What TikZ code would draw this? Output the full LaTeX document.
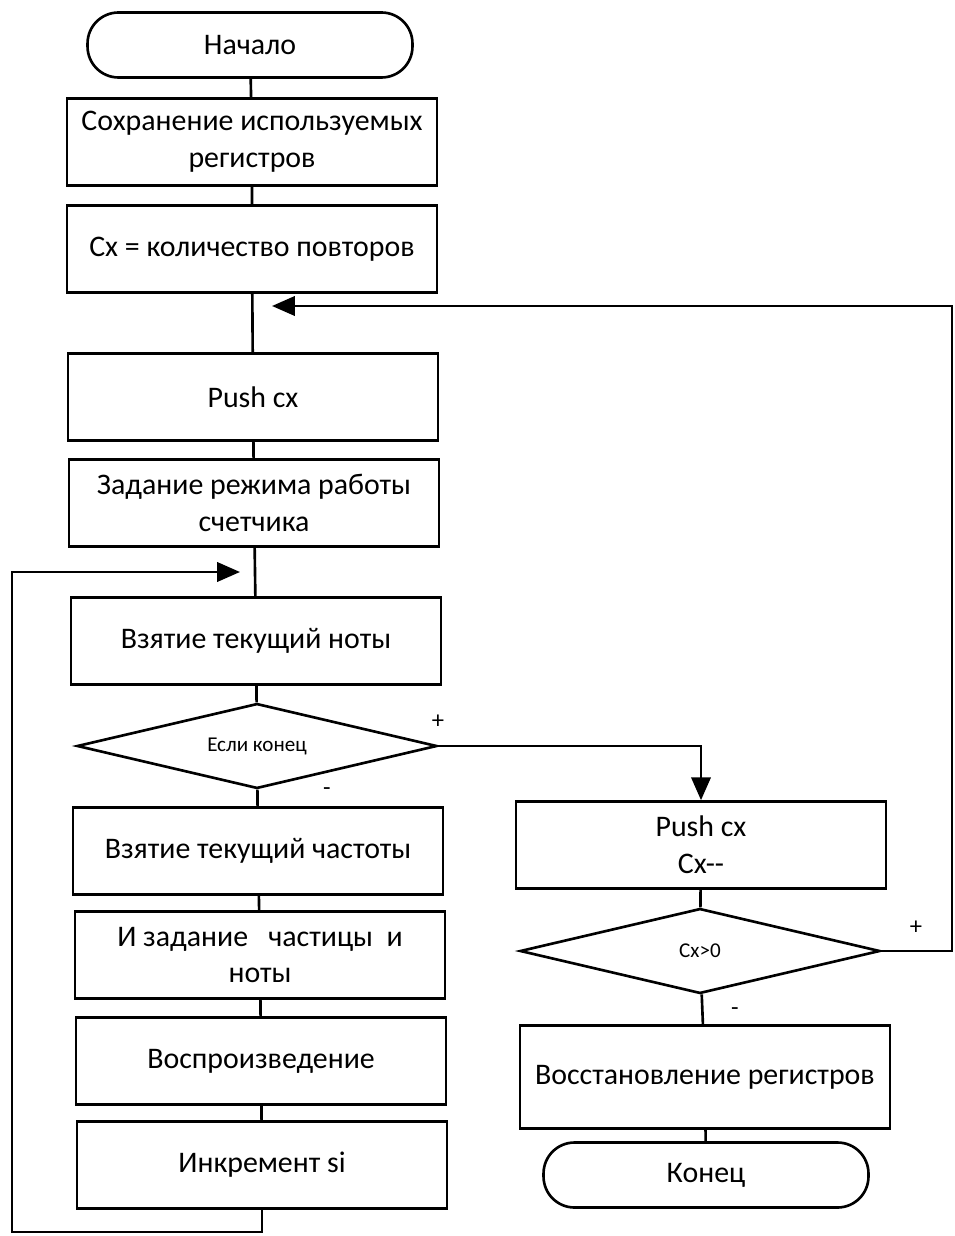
\documentclass[tikz,border=0pt]{standalone}
\usepackage{fontspec}
\setmainfont{Carlito}
\usepackage{tikz}
\usetikzlibrary{shapes,arrows.meta,positioning,calc}

\begin{document}
\begin{tikzpicture}[
            x=0.02cm, y=-0.02cm,
            line width=1.5pt,
            every node/.style={font=\fontsize{17}{21}\selectfont, align=center},
            block/.style={rectangle, draw, minimum width=7.4cm, minimum height=1.74cm},
            term/.style={rectangle, draw, rounded corners=0.62cm, minimum width=6.5cm, minimum height=1.3cm},
            cond/.style={diamond, draw, inner sep=0pt, shape aspect=4.24, minimum width=7.2cm, minimum height=1.7cm, font=\fontsize{12}{14}\selectfont},
            sign/.style={font=\fontsize{14}{16}\selectfont},
            flow/.style={-{Triangle[length=13pt,width=11pt]}}
        ]
            \useasboundingbox (0,0) rectangle (954,1236);
            % left column
            \node[term] (start) at (250,45) {Начало};
            \node[block] (save) at (252,142) {Сохранение используемых\\регистров};
            \node[block] (count) at (252,249) {Cx = количество повторов};
            \node[block] (push) at (253,397) {Push cx};
            \node[block] (mode) at (254,503) {Задание режима работы\\счетчика};
            \node[block] (note) at (256,641) {Взятие текущий ноты};
            \node[cond] (isend) at (257,746) {Если конец};
            \node[block] (freq) at (258,851) {Взятие текущий частоты};
            \node[block] (set) at (260,955) {И задание \ \ частицы \ и\\ноты};
            \node[block] (play) at (261,1061) {Воспроизведение};
            \node[block] (inc) at (262,1165) {Инкремент si};
            % right column
            \node[block] (pop) at (701,845) {Push cx\\Cx-{}-};
            \node[cond] (more) at (700,951) {Cx>0};
            \node[block, minimum height=2.05cm] (restore) at (705,1077) {Восстановление регистров};
            \node[term] (stop) at (706,1175) {Конец};

            \draw (start) -- (save) -- (count) -- (push) -- (mode) -- (note) -- (isend) -- (freq) -- (set) -- (play) -- (inc);
            \draw (pop) -- (more) -- (restore) -- (stop);
            \draw[flow] (isend.east) -| (pop.north);

            % loops
            \coordinate (outer) at (272,306);
            \coordinate (inner) at (240,572);
            \coordinate (rightside) at (952,306);
            \coordinate (bottom) at (12,1232);
            \draw[flow] (more.east) -| (rightside) -- (outer);
            \draw[flow] (inc.south) |- (bottom) |- (inner);

            \node[sign] at (438,722) {+};
            \node[sign] at (327,792) {-};
            \node[sign] at (916,928) {+};
            \node[sign] at (735,1012) {-};
        \end{tikzpicture}
\end{document}
